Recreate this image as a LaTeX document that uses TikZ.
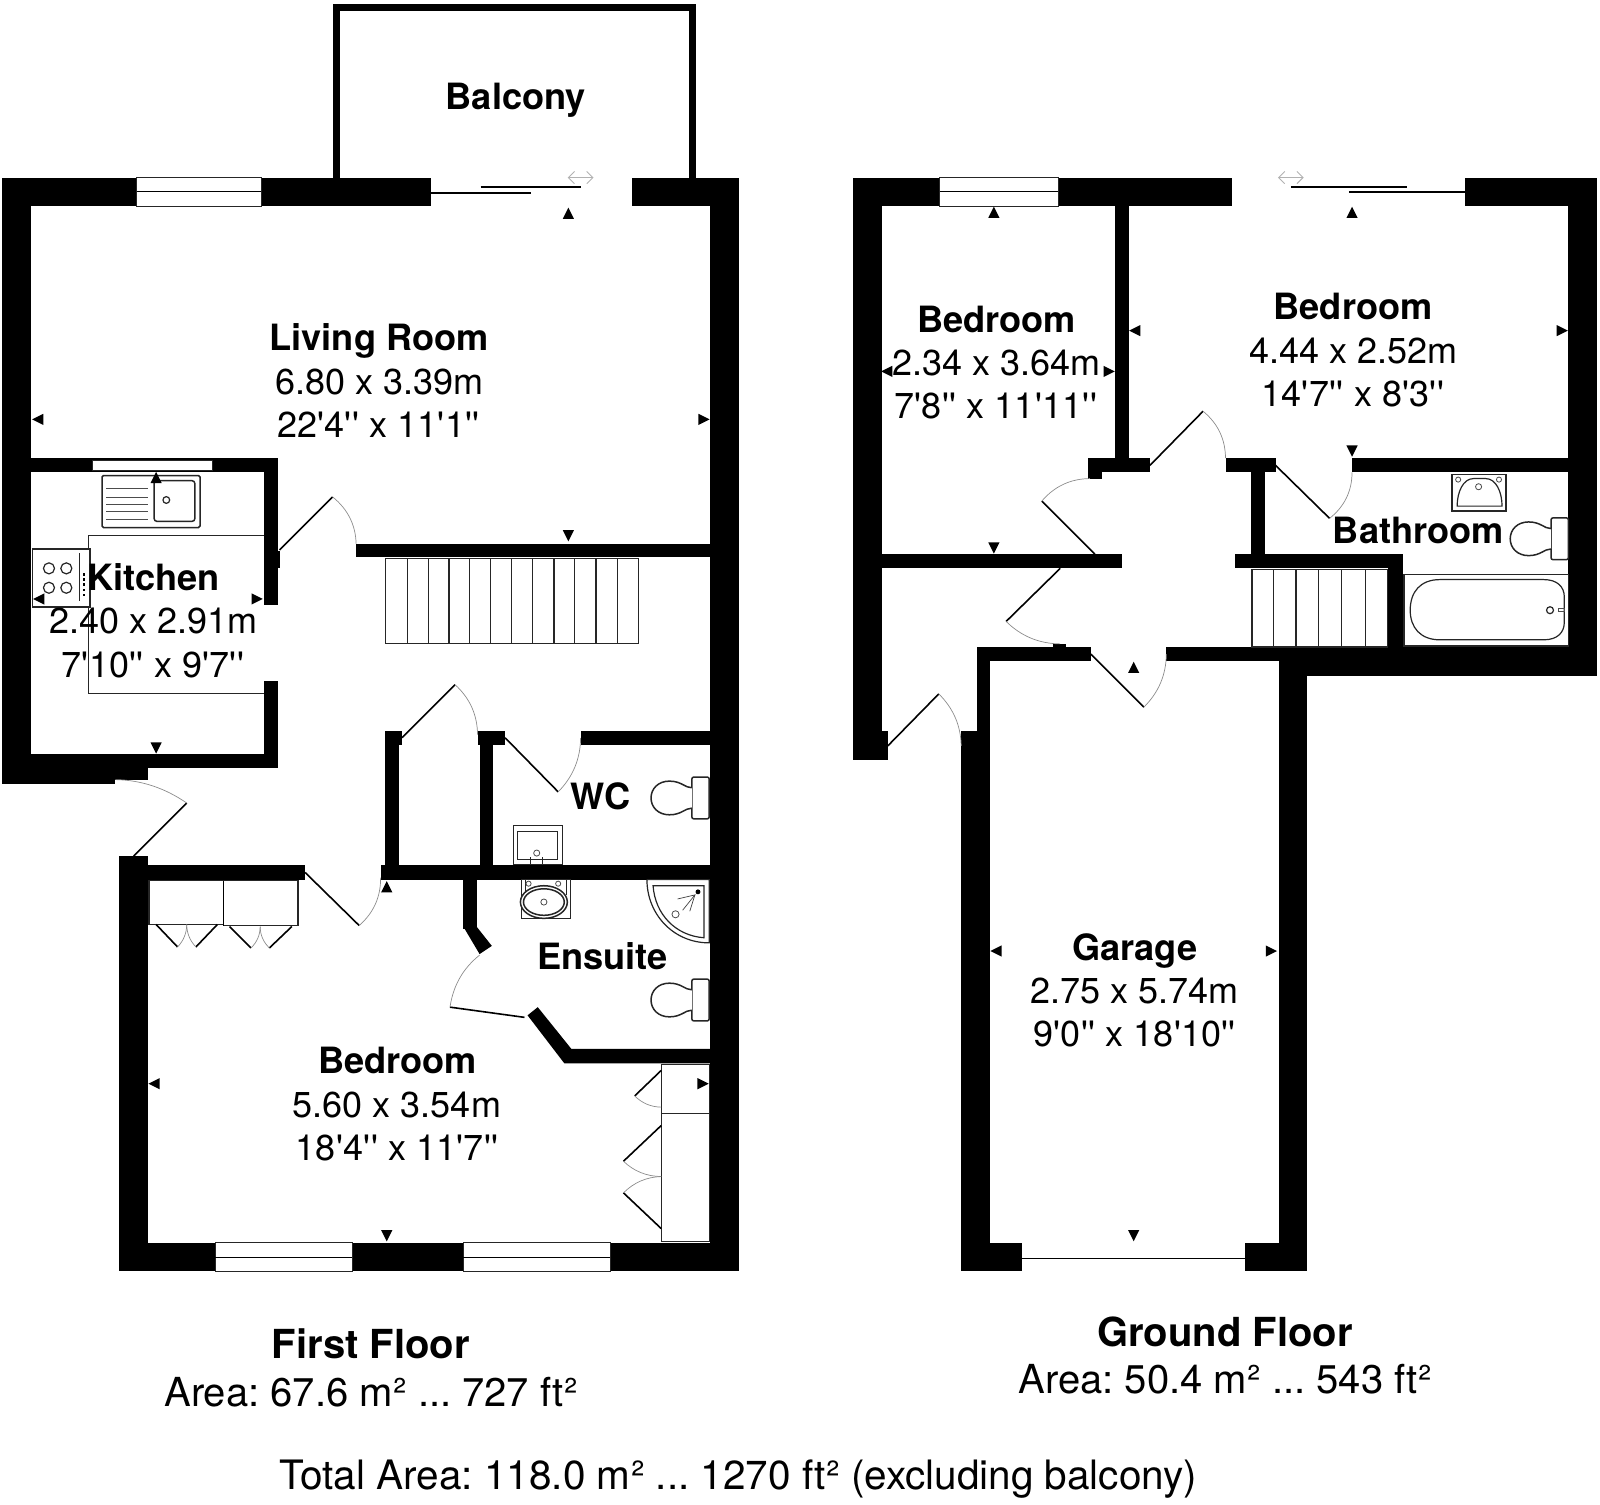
\documentclass[tikz,border=0pt]{standalone}
\usepackage{fontspec}
\setmainfont{TeX Gyre Heros}[Ligatures=TeXOff]
\tikzset{
  reg/.style={anchor=base,inner sep=0pt,font=\frenchspacing\fontsize{36}{36}\selectfont},
  bld/.style={anchor=base,inner sep=0pt,font=\frenchspacing\fontsize{36.2}{36}\selectfont\bfseries},
  big/.style={anchor=base,inner sep=0pt,font=\frenchspacing\fontsize{40}{40}\selectfont},
  bigt/.style={anchor=base,inner sep=0pt,font=\frenchspacing\fontsize{40.5}{40}\selectfont},
  bigb/.style={anchor=base,inner sep=0pt,font=\frenchspacing\fontsize{40}{40}\selectfont\bfseries},
  fix/.style={draw=black!85,line width=1.5pt,fill=white},
  thinfix/.style={draw=black!85,line width=1.2pt},
  leaf/.style={draw=black,line width=1.6pt},
  swing/.style={draw=black!45,line width=0.7pt},
  slide/.style={draw=black,line width=1.8pt},
  sign/.style={draw=black!30,line width=0.9pt}
}
\newcommand\q{\kern0.3pt'\kern0.3pt}
\newcommand\sq{\kern0.6pt²}
\newcommand\wl[4]{\fill[black] (#1,#2) rectangle (#3,#4);}
% door: hinge, tip, closed end; swing drawn as a smooth arc
\newcommand\door[6]{%
  \draw[leaf] (#1,#2) -- (#3,#4);
  \draw[swing] (#3,#4) .. controls
    ({#3+0.6667*(#1+1.17*((#3+#5)/2-#1)-#3)},{#4+0.6667*(#2+1.17*((#4+#6)/2-#2)-#4)}) and
    ({#5+0.6667*(#1+1.17*((#3+#5)/2-#1)-#5)},{#6+0.6667*(#2+1.17*((#4+#6)/2-#2)-#6)}) .. (#5,#6);}
\newcommand\winh[4]{%
  \draw[fill=white,draw=black!85,line width=1pt] (#1,#3) rectangle (#2,#4);
  \draw[draw=black,line width=1.2pt] (#1,{(#3+#4)/2}) -- (#2,{(#3+#4)/2});}
\newcommand\mU[2]{\fill ({#1-5.5},{#2+5.5}) -- ({#1+5.5},{#2+5.5}) -- (#1,{#2-5.5}) -- cycle;}
\newcommand\mD[2]{\fill ({#1-5.5},{#2-5.5}) -- ({#1+5.5},{#2-5.5}) -- (#1,{#2+5.5}) -- cycle;}
\newcommand\mL[2]{\fill ({#1+5.5},{#2-5.5}) -- ({#1+5.5},{#2+5.5}) -- ({#1-5.5},#2) -- cycle;}
\newcommand\mR[2]{\fill ({#1-5.5},{#2-5.5}) -- ({#1-5.5},{#2+5.5}) -- ({#1+5.5},#2) -- cycle;}
% toilet: tank left x, centre y
\newcommand\toilet[2]{%
  \draw[fix,rounded corners=2pt] (#1,{#2-20.5}) rectangle ({#1+17},{#2+20.5});
  \draw[fix] (#1,{#2-10}) .. controls ({#1-7},{#2-10}) and ({#1-10},{#2-16.5}) .. ({#1-22},{#2-16.5})
    .. controls ({#1-33},{#2-16.5}) and ({#1-40},{#2-9}) .. ({#1-40},#2)
    .. controls ({#1-40},{#2+9}) and ({#1-33},{#2+16.5}) .. ({#1-22},{#2+16.5})
    .. controls ({#1-10},{#2+16.5}) and ({#1-7},{#2+10}) .. (#1,{#2+10});}
\newcommand\dblarrow[3]{%
  \draw[sign] (#1,#3) -- (#2,#3);
  \draw[sign] ({#1+6},{#3-6}) -- (#1,#3) -- ({#1+6},{#3+6});
  \draw[sign] ({#2-6},{#3-6}) -- (#2,#3) -- ({#2-6},{#3+6});}
\begin{document}
\begin{tikzpicture}[x=1.0204pt,y=-1.0204pt]
\useasboundingbox (0,0) rectangle (1568,1474);
% ---------- FIRST FLOOR ----------
% balcony
\draw[line width=7pt,line join=miter] (329.5,174) -- (329.5,7.5) -- (678.5,7.5) -- (678.5,174);
% outer walls
\wl{2}{174}{422}{202}
\wl{619}{174}{724}{202}
\wl{696}{174}{724}{1246}
\wl{2}{174}{30}{768}
\wl{2}{753}{113}{768}
\wl{2}{739}{272}{753}
\wl{113}{753}{145}{764}
\wl{117}{839}{145}{1246}
\wl{117}{1218}{724}{1246}
% kitchen walls
\wl{30}{449}{272}{463}
\wl{259}{449}{272}{593}
\wl{259}{667}{272}{753}
\wl{272}{540}{274}{557}
% living room / stairs wall
\wl{349}{533}{696}{546}
% bedroom top wall
\wl{145}{848}{299}{862}
\wl{373}{848}{696}{862}
% closet + wc
\wl{377}{716}{391}{848}
\wl{377}{716}{394}{730}
\wl{470}{716}{483}{848}
\wl{468}{716}{495}{730}
\wl{569}{716}{696}{730}
% ensuite walls
\wl{454}{862}{467}{910}
\fill[black] (454,908) -- (470,935) -- (482,927) -- (467,908) -- cycle;
\fill[black] (517,995) -- (527,987) -- (560,1028) -- (696,1028) -- (696,1042) -- (553,1042) -- cycle;
% windows
\winh{134}{256}{174}{202}
\draw[fill=white,draw=black!85,line width=1pt] (91,451) rectangle (208,461);
\winh{211}{345}{1218}{1246}
\winh{454}{598}{1218}{1246}
% sliding door
\draw[slide] (422,189) -- (520,189);
\draw[slide] (471,183) -- (569,183);
\dblarrow{557}{581}{174}
% doors
\door{274}{539}{326}{487}{349}{533}
\door{131}{839}{183}{787}{113}{764}
\door{299}{855}{352}{907}{373}{860}
\door{394}{723}{446}{671}{468}{720}
\door{495}{723}{547}{776}{569}{723}
\door{514}{997}{441}{987}{470}{936}
% stairs
\draw[thinfix,fill=white] (378,547) rectangle (626,631);
\foreach \sx in {399,420,440,460,481,501,522,543,563,584,605}{\draw[thinfix] (\sx,547) -- (\sx,631);}
% kitchen fittings
\draw[thinfix] (259,525) -- (87,525) -- (87,680) -- (259,680);
\draw[fix,rounded corners=1.5pt] (100,466) rectangle (196,517);
\draw[fix,rounded corners=3pt] (151,471) rectangle (191,511);
\draw[thinfix] (163,490) circle (3.3);
\foreach \ly in {479,487,494,501,509}{\draw[draw=black!70,line width=0.8pt] (104,\ly) -- (145,\ly);}
\draw[fix] (32,538) rectangle (88,595);
\foreach \cx/\cy in {48/557,65/557,48/576,65/576}{\draw[thinfix] (\cx,\cy) circle (5.4);}
\draw[thinfix] (78,542) -- (78,589);
\foreach \dy in {563,568,573,578,583}{\fill (81,{\dy-1.2}) rectangle (83.5,{\dy+1.2});}
% wc fittings
\toilet{678}{782}
\draw[fix] (503,809) rectangle (551,847);
\draw[thinfix] (507,815) -- (546,815) -- (546,842) -- (507,842) -- cycle;
\draw[draw=black!70,line width=0.8pt] (526,836) circle (3);
\draw[thinfix] (520,840) -- (520,847);
\draw[thinfix] (532,840) -- (532,847);
% ensuite fittings
\draw[thinfix,fill=white] (511,862) rectangle (559,900);
\draw[thinfix] (515,862) -- (515,877);
\draw[thinfix] (555,862) -- (555,877);
\draw[fix] (533,884) ellipse (23 and 16);
\draw[fix] (533,884) ellipse (20 and 13);
\draw[draw=black!70,line width=0.8pt] (533,884) circle (3);
\draw[draw=black!70,line width=0.8pt] (518,866) circle (2.5);
\draw[draw=black!70,line width=0.8pt] (547,866) circle (2.5);
\draw[thinfix] (634,862) -- (695,862) -- (695,924) .. controls (660,924) and (634,896) .. (634,862);
\draw[thinfix] (640,868) -- (690,868) -- (690,919) .. controls (662,917) and (642,896) .. (640,868) -- cycle;
\fill (684,874) circle (2.4);
\draw[draw=black!70,line width=0.8pt] (662,896) circle (3.5);
\draw[draw=black!75,line width=0.7pt] (664,881) -- (681,877) -- (669,892);
\draw[draw=black!75,line width=0.7pt] (681,877) -- (676,893);
\toilet{678}{980}
% wardrobes
\draw[thinfix,fill=white] (146,863) rectangle (219,906);
\draw[thinfix,fill=white] (219,863) rectangle (292,907);
\draw[line width=1.6pt] (219,863) -- (219,907);
\door{153}{906}{174}{928}{183}{906}
\door{213}{906}{192}{928}{183}{906}
\door{225}{908}{246}{929}{255}{908}
\door{286}{908}{264}{929}{255}{908}
\draw[thinfix,fill=white] (648,1043) rectangle (695,1091);
\draw[thinfix,fill=white] (648,1091) rectangle (695,1217);
\door{648}{1049}{622}{1074}{648}{1085}
\door{648}{1103}{611}{1138}{648}{1153}
\door{648}{1204}{611}{1169}{648}{1153}
% dimension marks
\mU{557}{209} \mD{557}{525} \mL{37}{411} \mR{690}{411}
\mU{153}{468} \mD{153}{733} \mL{38}{587} \mR{252}{587}
\mU{379}{869} \mD{379}{1211} \mL{151}{1062} \mR{689}{1062}
% ---------- GROUND FLOOR ----------
\wl{836}{174}{1207}{202}
\wl{1436}{174}{1565}{202}
\wl{836}{174}{864}{745}
\wl{864}{716}{870}{745}
\wl{1537}{174}{1565}{662}
\wl{1093}{202}{1106}{449}
\wl{1066}{449}{1127}{463}
\wl{1066}{463}{1080}{469}
\wl{1201}{449}{1250}{463}
\wl{1226}{463}{1240}{545}
\wl{1325}{449}{1537}{463}
\wl{864}{543}{1100}{557}
\wl{1210}{543}{1375}{557}
\wl{1360}{543}{1375}{634}
\wl{957}{634}{1069}{648}
\wl{1032}{631}{1045}{634}
\wl{957}{648}{970}{716}
\wl{942}{716}{970}{1246}
\wl{1143}{634}{1537}{648}
\wl{1253}{634}{1565}{662}
\wl{1253}{634}{1281}{1246}
\wl{942}{1218}{1002}{1246}
\wl{1220}{1218}{1281}{1246}
\draw[line width=1.2pt] (1002,1233) -- (1220,1233);
\winh{921}{1037}{174}{202}
% sliding door
\draw[slide] (1322,188) -- (1436,188);
\draw[slide] (1265,183) -- (1379,183);
\dblarrow{1253}{1277}{174}
% doors
\door{1127}{456}{1179}{403}{1201}{449}
\door{1250}{456}{1303}{508}{1325}{463}
\door{1073}{543}{1021}{491}{1068}{469}
\door{1039}{557}{986}{609}{1039}{631}
\door{870}{731}{920}{680}{942}{731}
\door{1069}{641}{1121}{693}{1143}{641}
% stairs
\draw[thinfix,fill=white] (1227,558) rectangle (1360,634);
\foreach \sx in {1248,1270,1292,1315,1338}{\draw[thinfix] (\sx,558) -- (\sx,634);}
% bathroom fittings
\draw[fix] (1423,465) rectangle (1476,501);
\draw[thinfix] (1428,496) -- (1472,496) .. controls (1472,482) and (1466,469) .. (1456,469) -- (1444,469) .. controls (1434,469) and (1428,482) .. (1428,496) -- cycle;
\draw[draw=black!70,line width=0.8pt] (1429,470) circle (2.5);
\draw[draw=black!70,line width=0.8pt] (1469,470) circle (2.5);
\draw[draw=black!70,line width=0.8pt] (1449,477) circle (3);
\toilet{1520}{528}
\draw[fix] (1376,563) rectangle (1537,633);
\draw[thinfix] (1411,568) -- (1513,568) .. controls (1526,568) and (1533,575) .. (1533,585) -- (1533,610) .. controls (1533,620) and (1526,627) .. (1513,627) -- (1411,627) .. controls (1392,627) and (1382,615) .. (1382,598) .. controls (1382,580) and (1392,568) .. (1411,568) -- cycle;
\draw[thinfix] (1519,598) circle (3.4);
\draw[draw=black!70,line width=0.7pt] (1527,596.5) rectangle (1533,599.5);
% marks
\mU{974}{208} \mD{974}{537} \mL{869}{364} \mR{1087}{364}
\mU{1325}{208} \mD{1325}{442} \mL{1112}{324} \mR{1531}{324}
\mU{1111}{654} \mD{1111}{1211} \mL{976}{932} \mR{1246}{932}
% ---------- TEXT ----------
\node[bld] (balc) at (505.5,107) {Balcony};
\node[bld] (lr1) at (371.5,343) {Living Room};
\node[reg] (lr2) at (371.5,387) {6.80 x 3.39m};
\node[reg] (lr3) at (371,428.5) {22\q4\q\q{} x 11\q1\q\q};
\node[bld] (k1) at (150.5,578.5) {Kitchen};
\node[reg] (k2) at (150,620.5) {2.40 x 2.91m};
\node[reg] (k3) at (150,663.5) {7\q10\q\q{} x 9\q7\q\q};
\node[bld] (wc) at (588.5,793) {WC};
\node[bld] (en) at (590.5,950.5) {Ensuite};
\node[bld] (b1a) at (389.5,1052.5) {Bedroom};
\node[reg] (b1b) at (389,1095) {5.60 x 3.54m};
\node[reg] (b1c) at (389.5,1137.5) {18\q4\q\q{} x 11\q7\q\q};
\node[bld] (b2a) at (976.5,325.5) {Bedroom};
\node[reg] (b2b) at (976.5,367.5) {2.34 x 3.64m};
\node[reg] (b2c) at (976,410.5) {7\q8\q\q{} x 11\q11\q\q};
\node[bld] (b3a) at (1326,313.5) {Bedroom};
\node[reg] (b3b) at (1326,356.5) {4.44 x 2.52m};
\node[reg] (b3c) at (1326,398.5) {14\q7\q\q{} x 8\q3\q\q};
\node[bld] (ba) at (1390,532.5) {Bathroom};
\node[bld] (g1) at (1112,941) {Garage};
\node[reg] (g2) at (1112,983) {2.75 x 5.74m};
\node[reg] (g3) at (1112,1025.5) {9\q0\q\q{} x 18\q10\q\q};
\node[bigb] (ff) at (363.5,1331) {First Floor};
\node[big] (ffa) at (363.5,1378) {Area: 67.6 m\sq{} ... 727 ft\sq};
\node[bigb] (gf) at (1200.5,1320) {Ground Floor};
\node[big] (gfa) at (1200.5,1366) {Area: 50.4 m\sq{} ... 543 ft\sq};
\node[bigt] (tot) at (723.5,1460) {Total Area: 118.0 m\sq{} ... 1270 ft\sq{} (excluding balcony)};
\end{tikzpicture}
\end{document}
